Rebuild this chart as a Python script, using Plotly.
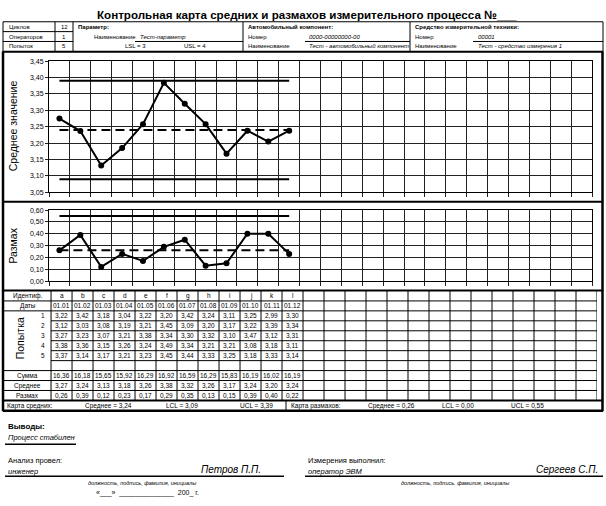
import plotly.graph_objects as go

# ---------------- data ----------------
IDS = list("abcdefghijkl")
ALL_COLS = list("abcdefghijklmnopqrstuvwxyz")
DATES = ["01.01", "01.02", "01.03", "01.04", "01.05", "01.06",
         "01.07", "01.08", "01.09", "01.10", "01.11", "01.12"]
TRIAL_1 = [3.22, 3.42, 3.18, 3.04, 3.22, 3.20, 3.42, 3.24, 3.11, 3.25, 2.99, 3.30]
TRIAL_2 = [3.12, 3.03, 3.08, 3.19, 3.21, 3.45, 3.09, 3.20, 3.17, 3.22, 3.39, 3.34]
TRIAL_3 = [3.27, 3.23, 3.07, 3.21, 3.38, 3.34, 3.30, 3.32, 3.10, 3.47, 3.12, 3.31]
TRIAL_4 = [3.38, 3.36, 3.15, 3.26, 3.24, 3.49, 3.34, 3.21, 3.21, 3.08, 3.18, 3.11]
TRIAL_5 = [3.37, 3.14, 3.17, 3.21, 3.23, 3.45, 3.44, 3.33, 3.25, 3.18, 3.33, 3.14]
SUMS = [16.36, 16.18, 15.65, 15.92, 16.29, 16.92, 16.59, 16.29, 15.83, 16.19, 16.02, 16.19]
MEANS_TABLE = [3.27, 3.24, 3.13, 3.18, 3.26, 3.38, 3.32, 3.26, 3.17, 3.24, 3.20, 3.24]
RANGES_TABLE = [0.26, 0.39, 0.12, 0.23, 0.17, 0.29, 0.35, 0.13, 0.15, 0.39, 0.40, 0.22]
MEANS_PLOT = [3.275, 3.237, 3.132, 3.185, 3.258, 3.384, 3.320, 3.258, 3.168, 3.238, 3.205, 3.238]
RANGES_PLOT = [0.26, 0.39, 0.12, 0.23, 0.17, 0.29, 0.35, 0.13, 0.15, 0.40, 0.40, 0.23]
X_CENTER, X_LCL, X_UCL = 3.24, 3.09, 3.39
R_CENTER, R_LCL, R_UCL = 0.26, 0.00, 0.55
Y1_TICKS = [3.05, 3.10, 3.15, 3.20, 3.25, 3.30, 3.35, 3.40, 3.45]
Y2_TICKS = [0.0, 0.1, 0.2, 0.3, 0.4, 0.5, 0.6]

W, H = 606, 506
FONT = "Liberation Sans, Arial, sans-serif"


def fx(x):
    return x / W


def fy(y):
    return 1 - y / H


def c(v):
    return f"{v:.2f}".replace(".", ",")


fig = go.Figure()

# hidden traces to register the 26 column categories
for xa, ya, yv in (("x", "y", 3.25), ("x2", "y2", 0.3)):
    fig.add_trace(go.Scatter(x=ALL_COLS, y=[yv] * len(ALL_COLS), mode="markers",
                             marker=dict(opacity=0), hoverinfo="skip",
                             showlegend=False, xaxis=xa, yaxis=ya))

ends = [IDS[0], IDS[-1]]
# mean chart
fig.add_trace(go.Scatter(x=ends, y=[X_UCL, X_UCL], mode="lines",
                         line=dict(color="black", width=2), xaxis="x", yaxis="y"))
fig.add_trace(go.Scatter(x=ends, y=[X_LCL, X_LCL], mode="lines",
                         line=dict(color="black", width=2), xaxis="x", yaxis="y"))
fig.add_trace(go.Scatter(x=ends, y=[X_CENTER, X_CENTER], mode="lines",
                         line=dict(color="black", width=2, dash="9px,5px"), xaxis="x", yaxis="y"))
fig.add_trace(go.Scatter(x=IDS, y=MEANS_PLOT, mode="lines+markers",
                         line=dict(color="black", width=2),
                         marker=dict(color="black", size=6), xaxis="x", yaxis="y"))
# range chart
fig.add_trace(go.Scatter(x=ends, y=[R_UCL, R_UCL], mode="lines",
                         line=dict(color="black", width=2), xaxis="x2", yaxis="y2"))
fig.add_trace(go.Scatter(x=ends, y=[R_CENTER, R_CENTER], mode="lines",
                         line=dict(color="black", width=2, dash="9px,5px"), xaxis="x2", yaxis="y2"))
fig.add_trace(go.Scatter(x=IDS, y=RANGES_PLOT, mode="lines+markers",
                         line=dict(color="black", width=2),
                         marker=dict(color="black", size=6), xaxis="x2", yaxis="y2"))

xcommon = dict(type="category", categoryorder="array", categoryarray=ALL_COLS,
               range=[-0.5, 25.5], tickson="boundaries", showgrid=True,
               gridcolor="#222", gridwidth=1, ticks="outside", ticklen=4,
               tickcolor="#222", showticklabels=False, showline=True, mirror=True,
               linecolor="black", linewidth=1, zeroline=False, fixedrange=True,
               domain=[fx(49), fx(592)])
ycommon = dict(showgrid=True, gridcolor="#222", gridwidth=1, ticks="outside",
               ticklen=3, tickcolor="#222", tickformat=".2f", showline=True,
               mirror=True, linecolor="black", linewidth=1, zeroline=False,
               tickfont=dict(size=7, color="black", family=FONT), fixedrange=True)

# table axes
TBL_X0 = -2.24
fig.update_layout(
    width=W, height=H, autosize=False,
    margin=dict(l=0, r=0, t=0, b=0),
    paper_bgcolor="white", plot_bgcolor="white",
    showlegend=False, separators=", ",
    font=dict(family=FONT, color="black"),
    xaxis=dict(anchor="y", **xcommon),
    yaxis=dict(anchor="x", domain=[fy(191), fy(58)], range=[3.05, 3.45],
               tickvals=Y1_TICKS, **ycommon),
    xaxis2=dict(anchor="y2", **xcommon),
    yaxis2=dict(anchor="x2", domain=[fy(281), fy(209)], range=[0, 0.6],
                tickvals=Y2_TICKS, **ycommon),
    xaxis3=dict(anchor="y3", domain=[fx(4), fx(597)], range=[TBL_X0, 26],
                visible=False, fixedrange=True),
    yaxis3=dict(anchor="x3", domain=[fy(402), fy(291)], range=[11, 0],
                visible=False, fixedrange=True),
)

shapes = []
ann = []


def pline(x0, y0, x1, y1, w=1):
    shapes.append(dict(type="line", xref="paper", yref="paper",
                       x0=fx(x0), y0=fy(y0), x1=fx(x1), y1=fy(y1),
                       line=dict(color="black", width=w)))


def ptext(x, y, text, size=7, anchor="left", angle=0):
    ann.append(dict(xref="paper", yref="paper", x=fx(x), y=fy(y), text=text,
                    showarrow=False, xanchor=anchor, yanchor="middle",
                    textangle=angle, font=dict(size=size, color="black", family=FONT)))


# ---- title ----
ptext(307, 11, "<b>Контрольная карта средних и размахов измерительного процесса №___</b>",
      size=11.6, anchor="center")

# ---- header table ----
HF = 6
pline(3, 18, 603, 18)
pline(3, 18, 3, 48)
pline(603, 18, 603, 48)
pline(3, 28, 73, 28)
pline(3, 38, 73, 38)
pline(55, 18, 55, 48)
pline(73, 18, 73, 48)
pline(243, 18, 243, 48)
pline(410, 18, 410, 48)
pline(135, 38, 243, 38)
pline(305, 38, 410, 38)
pline(473, 38, 603, 38)
ptext(7, 23, "Циклов", HF)
ptext(7, 33, "Операторов", HF)
ptext(7, 43, "Попыток", HF)
ptext(64, 23, "12", HF, "center")
ptext(64, 33, "1", HF, "center")
ptext(64, 43, "5", HF, "center")
ptext(76, 23, "<b>Параметр:</b>", HF)
ptext(92, 33, "Наименование", HF)
ptext(138, 33, "<i>Тест-параметр</i>", HF)
ptext(135, 43, "LSL = 3", HF, "center")
ptext(195, 43, "USL = 4", HF, "center")
ptext(246, 23, "<b>Автомобильный компонент:</b>", HF)
ptext(246, 33, "Номер", HF)
ptext(307, 33, "<i>0000-00000000-00</i>", HF)
ptext(246, 43, "Наименование", HF)
ptext(307, 43, "<i>Тест - автомобильный компонент</i>", HF)
ptext(413, 23, "<b>Средство измерительной техники:</b>", HF)
ptext(413, 33, "Номер", HF)
ptext(476, 33, "<i>00001</i>", HF)
ptext(413, 43, "Наименование", HF)
ptext(476, 43, "<i>Тест - средство измерения 1</i>", HF)

# ---- chart / table frame (thick) ----
pline(3, 48.5, 603, 48.5, 2)
pline(3, 48, 3, 413, 2.5)
pline(602.5, 48, 602.5, 413, 2.5)
pline(3, 200.5, 603, 200.5, 2)
pline(3, 290.5, 603, 290.5, 2)
pline(3, 402, 603, 402, 2)
pline(3, 412.5, 603, 412.5, 2.5)
pline(286, 402, 286, 412.5, 1)

# axis titles
ptext(13, 124, "Среднее значение", 10.5, "center", -90)
ptext(13, 245, "Размах", 10.5, "center", -90)

# ---- data table (on its own axes) ----
for k in range(27):
    shapes.append(dict(type="line", xref="x3", yref="y3", x0=k, x1=k, y0=0, y1=11,
                       line=dict(color="black", width=1)))
for r in (1, 2, 8, 9, 10):
    shapes.append(dict(type="line", xref="x3", yref="y3", x0=TBL_X0, x1=26, y0=r, y1=r,
                       line=dict(color="black", width=1)))
for r in (3, 4, 5, 6, 7):
    shapes.append(dict(type="line", xref="x3", yref="y3", x0=0, x1=26, y0=r, y1=r,
                       line=dict(color="black", width=1)))


def ttext(x, y, text, anchor="center", size=6.5, angle=0):
    ann.append(dict(xref="x3", yref="y3", x=x, y=y, text=text, showarrow=False,
                    xanchor=anchor, yanchor="middle", textangle=angle,
                    font=dict(size=size, color="black", family=FONT)))


row_labels = {0: "Идентиф.", 1: "Даты", 8: "Сумма", 9: "Среднее", 10: "Размах"}
for r, lab in row_labels.items():
    ttext(TBL_X0 / 2, r + 0.5, lab)
ttext(-1.5, 4.8, "Попытка", size=10.5, angle=-90)
for i in range(5):
    ttext(-0.2, 2.5 + i, str(i + 1), anchor="right")

trials = [TRIAL_1, TRIAL_2, TRIAL_3, TRIAL_4, TRIAL_5]
for j in range(len(IDS)):
    x = j + 0.5
    ttext(x, 0.5, IDS[j])
    ttext(x, 1.5, DATES[j])
    for i, tr in enumerate(trials):
        ttext(x, 2.5 + i, c(tr[j]))
    ttext(x, 8.5, c(SUMS[j]))
    ttext(x, 9.5, c(MEANS_TABLE[j]))
    ttext(x, 10.5, c(RANGES_TABLE[j]))

# ---- control limits row ----
ptext(5, 407.5, "Карта средних:", 6.5)
ptext(108, 407.5, f"Среднее = {c(X_CENTER)}", 6.5, "center")
ptext(182, 407.5, f"LCL = {c(X_LCL)}", 6.5, "center")
ptext(256, 407.5, f"UCL = {c(X_UCL)}", 6.5, "center")
ptext(289, 407.5, "Карта размахов:", 6.5)
ptext(392, 407.5, f"Среднее = {c(R_CENTER)}", 6.5, "center")
ptext(458, 407.5, f"LCL = {c(R_LCL)}", 6.5, "center")
ptext(527, 407.5, f"UCL = {c(R_UCL)}", 6.5, "center")

# ---- footer ----
ptext(6, 428, "<b>Выводы:</b>", 8)
ptext(6, 440, "<i>Процесс стабилен</i>", 7.5)
pline(5, 446.5, 76, 446.5, 1.5)
ptext(6, 463, "Анализ провел:", 7.5)
ptext(6, 474, "<i>инженер</i>", 7.5)
ptext(263, 472, "<i>Петров П.П.</i>", 10, "right")
pline(5, 479, 284, 479, 1.5)
ptext(142, 486, "<i>должность, подпись, фамилия, инициалы</i>", 5.5, "center")
ptext(147, 496, "«___»  ______________  200_ г.", 7, "center")
ptext(306, 463, "Измерения выполнил:", 7.5)
ptext(306, 474, "<i>оператор ЭВМ</i>", 7.5)
ptext(600, 472, "<i>Сергеев С.П.</i>", 10, "right")
pline(305, 479, 603, 479, 1.5)
ptext(455, 486, "<i>должность, подпись, фамилия, инициалы</i>", 5.5, "center")

fig.update_layout(shapes=shapes, annotations=ann)
fig.write_html(
    "out.html",
    config={"displayModeBar": False, "staticPlot": True},
    post_script="document.body.style.margin='0px';document.body.style.padding='0px';"
                "document.documentElement.style.overflow='hidden';",
)
